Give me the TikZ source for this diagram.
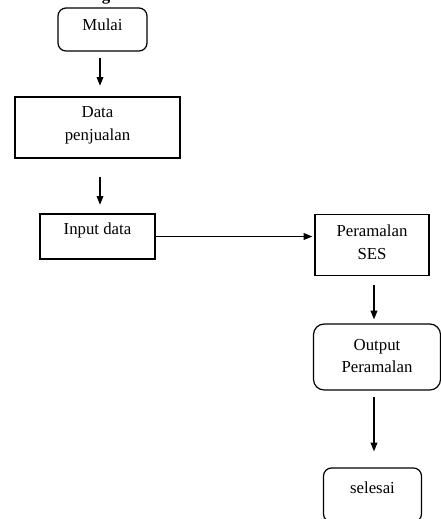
\documentclass[tikz,border=0pt]{standalone}
\usepackage{fontspec}
\setmainfont{Liberation Serif}
\usetikzlibrary{arrows.meta}
\tikzset{
  box/.style={draw, line width=0.9pt, inner sep=0pt},
  flowtext/.style={font=\fontsize{12.6}{17}\selectfont, align=center, inner sep=0pt},
  arr/.style={line width=0.9pt, -{Triangle[length=6.5pt,width=5pt]}}
}
\begin{document}
\begin{tikzpicture}[x=0.75pt,y=-0.75pt]
\useasboundingbox (0,0) rectangle (441,519);
% descender of the heading above the chart
\node[font=\bfseries\fontsize{12.6}{15}\selectfont, anchor=base, inner sep=0pt] (heading) at (106,0.8) {g};

% boxes
\node[box, rounded corners=6pt, minimum width=89*0.75pt, minimum height=43*0.75pt] (mulai) at (102.5,29.5) {};
\node[box, minimum width=165*0.75pt, minimum height=61*0.75pt] (data) at (97.5,127.5) {};
\node[box, minimum width=115*0.75pt, minimum height=45*0.75pt] (input) at (97.5,236.5) {};
\node[box, minimum width=114*0.75pt, minimum height=61*0.75pt] (ses) at (372,245) {};
\node[box, rounded corners=8pt, minimum width=127*0.75pt, minimum height=66*0.75pt] (output) at (377,357) {};
\node[box, rounded corners=6pt, minimum width=98*0.75pt, minimum height=54*0.75pt] (selesai) at (372.5,495) {};

% texts
\node[flowtext] (tmulai) at (102.5,25) {Mulai};
\node[flowtext] (tdata) at (97.5,125.5) {Data\\penjualan};
\node[flowtext] (tinput) at (97.5,230) {Input data};
\node[flowtext] (tses) at (372,242.5) {Peramalan\\SES};
\node[flowtext] (toutput) at (377,356) {Output\\Peramalan};
\node[flowtext] (tselesai) at (372.5,488) {selesai};

% connectors
\coordinate (left) at (100,0);
\coordinate (right) at (374,0);
\draw[arr, shorten <=4.5pt, shorten >=8pt] (mulai.south -| left) -- (data.north -| left);
\draw[arr, shorten <=13.5pt, shorten >=6.5pt] (data.south -| left) -- (input.north -| left);
\draw[arr, shorten >=1.5pt] (input.east) -- (input.east -| ses.west);
\draw[arr, shorten <=7pt, shorten >=3pt] (ses.south -| right) -- (output.north -| right);
\draw[arr, shorten <=5pt, shorten >=12pt] (output.south -| right) -- (selesai.north -| right);
\end{tikzpicture}
\end{document}
